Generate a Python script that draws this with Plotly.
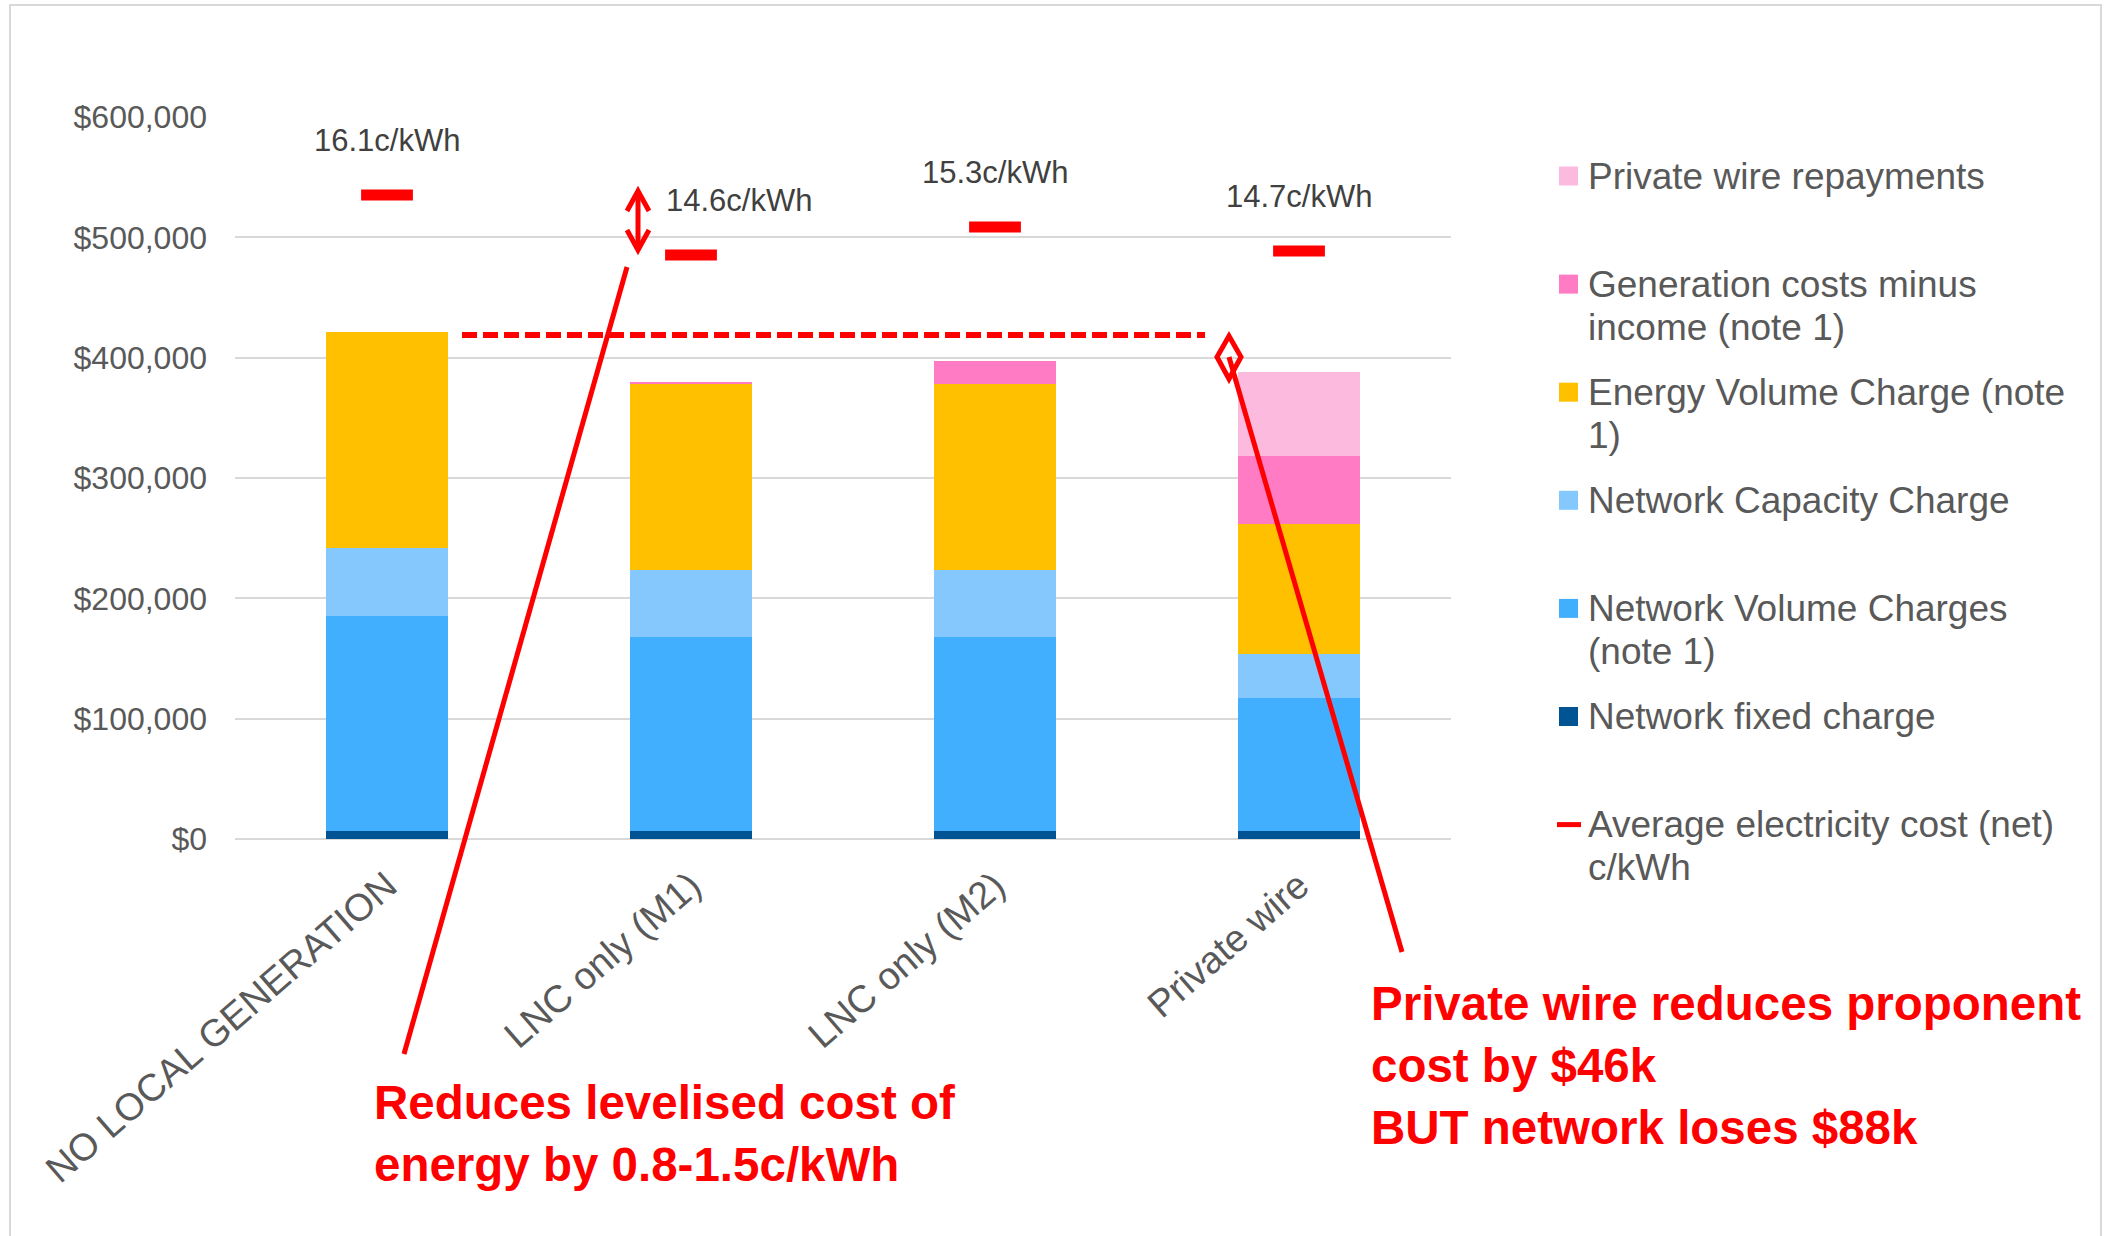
import plotly.graph_objects as go

# ---------------- data ----------------
categories = ["NO LOCAL GENERATION", "LNC only (M1)", "LNC only (M2)", "Private wire"]
network_fixed = [6500, 6500, 6500, 6500]
network_volume = [178500, 161000, 161000, 110600]
network_capacity = [57000, 56000, 56000, 37000]
energy_volume = [179000, 155000, 155000, 108000]
generation_net = [0, 1300, 18400, 56400]
private_wire = [0, 0, 0, 69600]
avg_cost = [16.1, 14.6, 15.3, 14.7]   # c/kWh

series_names = [
    "Network fixed charge",
    "Network Volume Charges (note 1)",
    "Network Capacity Charge",
    "Energy Volume Charge (note 1)",
    "Generation costs minus income (note 1)",
    "Private wire repayments",
]
line_name = "Average electricity cost (net) c/kWh"

# ---------------- style / layout constants ----------------
FONT = "Liberation Sans, Arial, sans-serif"
W, H = 2111, 1236
PL, PR, PT, PB = 235, 1451, 117, 839
RED = "#FF0000"
colors = ["#015493", "#42AFFE", "#85C8FE", "#FFC000", "#FF7BC3", "#FDBADF"]
values = [network_fixed, network_volume, network_capacity, energy_volume,
          generation_net, private_wire]
label_xshift = [0, 48, 0, 0]


def xp(px):
    return (px - PL) / (PR - PL)


def yp(py):
    return (PB - py) / (PB - PT)


fig = go.Figure()
for name, vals, col in zip(series_names, values, colors):
    fig.add_trace(go.Bar(
        x=categories, y=vals, name=name,
        marker=dict(color=col, line=dict(width=0)),
        showlegend=False,
    ))

fig.add_trace(go.Scatter(
    x=categories, y=avg_cost, name=line_name, yaxis="y2", mode="markers",
    marker=dict(symbol="line-ew", size=37, color=RED,
                line=dict(width=11, color=RED)),
    showlegend=False,
))

annotations = []
# data labels for average cost
for i, (cat, v) in enumerate(zip(categories, avg_cost)):
    annotations.append(dict(
        x=cat, y=v, xref="x", yref="y2", text=f"{v}c/kWh",
        showarrow=False, yshift=55, xshift=label_xshift[i],
        font=dict(family=FONT, size=31, color="#404040"),
        xanchor="center", yanchor="middle",
    ))

# manual legend
legend_items = [
    (["Private wire repayments"], "box", colors[5]),
    (["Generation costs minus", "income (note 1)"], "box", colors[4]),
    (["Energy Volume Charge (note", "1)"], "box", colors[3]),
    (["Network Capacity Charge"], "box", colors[2]),
    (["Network Volume Charges", "(note 1)"], "box", colors[1]),
    (["Network fixed charge"], "box", colors[0]),
    (["Average electricity cost (net)", "c/kWh"], "line", RED),
]
shapes = []
LEG_TOP, LEG_STEP, LEG_LINE = 176, 108.1, 43
for k, (lines, kind, col) in enumerate(legend_items):
    yc = LEG_TOP + k * LEG_STEP
    if kind == "box":
        shapes.append(dict(type="rect", xref="paper", yref="paper",
                           x0=xp(1559), x1=xp(1578), y0=yp(yc - 9.5), y1=yp(yc + 9.5),
                           fillcolor=col, line=dict(width=0)))
    else:
        shapes.append(dict(type="line", xref="paper", yref="paper",
                           x0=xp(1557), x1=xp(1581), y0=yp(yc), y1=yp(yc),
                           line=dict(color=col, width=5)))
    for j, t in enumerate(lines):
        annotations.append(dict(
            x=xp(1586), y=yp(yc + j * LEG_LINE), xref="paper", yref="paper",
            text=t, showarrow=False, xanchor="left", yanchor="middle",
            font=dict(family=FONT, size=37, color="#595959"),
        ))

# red callout texts
annotations.append(dict(
    x=xp(372), y=yp(1133), xref="paper", yref="paper",
    text="<b>Reduces levelised cost of<br>energy by 0.8-1.5c/kWh</b>",
    showarrow=False, xanchor="left", yanchor="middle", align="left",
    font=dict(family=FONT, size=47.5, color=RED),
))
annotations.append(dict(
    x=xp(1369), y=yp(1065), xref="paper", yref="paper",
    text="<b>Private wire reduces proponent<br>cost by $46k<br>BUT network loses $88k</b>",
    showarrow=False, xanchor="left", yanchor="middle", align="left",
    font=dict(family=FONT, size=47.5, color=RED),
))

# outer frame
shapes.append(dict(type="rect", xref="paper", yref="paper", layer="below",
                   x0=xp(10), x1=xp(2101), y0=yp(5), y1=yp(1260),
                   line=dict(color="#D9D9D9", width=2), fillcolor="rgba(0,0,0,0)"))


# red drawn lines
def seg(x0, y0, x1, y1, width=5, dash=None):
    d = dict(type="line", xref="paper", yref="paper", layer="above",
             x0=xp(x0), y0=yp(y0), x1=xp(x1), y1=yp(y1),
             line=dict(color=RED, width=width))
    if dash:
        d["line"]["dash"] = dash
    return d


def path(points, width=5, close=False):
    p = "M " + " L ".join(f"{xp(a):.5f},{yp(b):.5f}" for a, b in points)
    if close:
        p += " Z"
    return dict(type="path", xref="paper", yref="paper", layer="above", path=p,
                line=dict(color=RED, width=width), fillcolor="rgba(0,0,0,0)")


shapes.append(seg(404, 1054, 627, 267))
shapes.append(seg(462, 335, 1205, 335, width=6, dash="15px,6px"))
shapes.append(seg(638, 191, 638, 250))
shapes.append(path([(627, 211), (638, 191), (649, 211)]))
shapes.append(path([(627, 230), (638, 250), (649, 230)]))
shapes.append(seg(1229, 357, 1402, 952))
shapes.append(path([(1229, 336), (1241, 357), (1229, 379), (1217, 357)], width=5, close=True))

fig.update_layout(
    width=W, height=H,
    margin=dict(l=PL, r=W - PR, t=PT, b=H - PB, pad=0),
    barmode="stack", bargap=0.6,
    plot_bgcolor="white", paper_bgcolor="white",
    showlegend=False,
    font=dict(family=FONT, color="#595959"),
    xaxis=dict(type="category", tickangle=-41, showgrid=False, showline=False,
               zeroline=False, ticks="",
               tickfont=dict(family=FONT, size=38, color="#595959"),
               ticklabelstandoff=16),
    yaxis=dict(range=[0, 600000], dtick=100000, tickprefix="$", tickformat=",d",
               showgrid=True, gridcolor="#D9D9D9", gridwidth=2,
               zeroline=True, zerolinecolor="#D9D9D9", zerolinewidth=2,
               showline=False, ticks="", ticklabelstandoff=27,
               tickfont=dict(family=FONT, size=32, color="#595959")),
    yaxis2=dict(range=[0, 18.05], overlaying="y", visible=False),
    annotations=annotations,
    shapes=shapes,
)

fig.write_html("out.html")
